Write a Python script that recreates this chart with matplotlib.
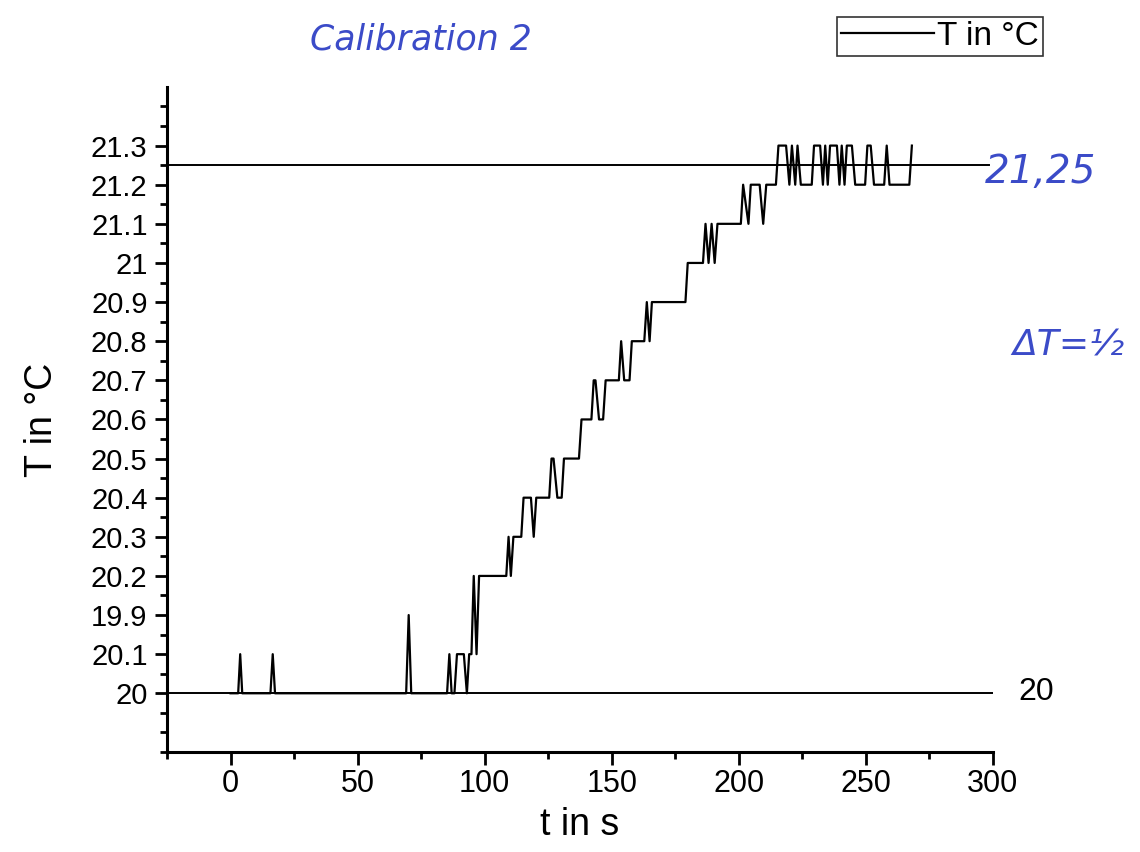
import numpy as np
import matplotlib.pyplot as plt
from matplotlib.ticker import FixedLocator, MultipleLocator

plt.rcParams['font.family'] = ['Liberation Sans', 'DejaVu Sans']

# y categories in the order the plotting program placed them (text column)
T_LEVELS = ["20", "20.1", "19.9", "20.2", "20.3", "20.4", "20.5", "20.6",
            "20.7", "20.8", "20.9", "21", "21.1", "21.2", "21.3"]

# measured curve, vertices where the trace changes direction
t_s = [0, 3, 3.8, 4.6, 15.7, 16.6, 17.5, 69.1, 70.1, 71.1,
       85.2, 86.1, 87.0, 88.1, 89.1, 91.8, 93.0, 93.9, 94.8, 95.7,
       96.8, 97.8, 108.5, 109.4, 110.3, 111.3, 114.4, 115.3, 118.2, 119.3,
       120.3, 125.4, 126.3, 127.1, 128.6, 130.3, 131.2, 137.1, 138.1, 142.0,
       142.9, 143.6, 145.0, 146.6, 147.6, 152.8, 153.7, 154.9, 157.0, 157.9,
       162.8, 163.8, 164.9, 165.8, 179.0, 179.9, 185.9, 186.9, 188.1, 189.3,
       190.5, 191.6, 200.8, 201.7, 203.8, 204.7, 208.2, 209.6, 210.8, 214.6,
       215.6, 218.6, 219.9, 220.9, 222.2, 223.1, 224.4, 228.7, 229.6, 232.0,
       233.1, 234.0, 235.0, 235.9, 238.6, 239.6, 240.5, 241.6, 242.5, 244.5,
       245.8, 249.7, 250.6, 251.9, 253.2, 257.2, 258.2, 259.3, 267.1, 268.1]
T_c = ["20", "20", "20.1", "20", "20", "20.1", "20", "20", "19.9", "20",
       "20", "20.1", "20", "20", "20.1", "20.1", "20", "20.1", "20.1", "20.2",
       "20.1", "20.2", "20.2", "20.3", "20.2", "20.3", "20.3", "20.4", "20.4", "20.3",
       "20.4", "20.4", "20.5", "20.5", "20.4", "20.4", "20.5", "20.5", "20.6", "20.6",
       "20.7", "20.7", "20.6", "20.6", "20.7", "20.7", "20.8", "20.7", "20.7", "20.8",
       "20.8", "20.9", "20.8", "20.9", "20.9", "21", "21", "21.1", "21", "21.1",
       "21", "21.1", "21.1", "21.2", "21.1", "21.2", "21.2", "21.1", "21.2", "21.2",
       "21.3", "21.3", "21.2", "21.3", "21.2", "21.3", "21.2", "21.2", "21.3", "21.3",
       "21.2", "21.3", "21.2", "21.3", "21.3", "21.2", "21.3", "21.2", "21.3", "21.3",
       "21.2", "21.2", "21.3", "21.3", "21.2", "21.2", "21.3", "21.2", "21.2", "21.3"]

# hand-drawn reference lines (positions on the category axis)
REF_HI = 13.5   # 21,25 between 21.2 and 21.3
REF_LO = 0      # 20

pos = {lab: i for i, lab in enumerate(T_LEVELS)}
y_pos = [pos[v] for v in T_c]

fig = plt.figure(figsize=(11.4, 8.52), dpi=100)
ax = fig.add_axes([0.1465, 0.1174, 0.7245, 0.7806])

ax.plot(t_s, y_pos, color="black", lw=1.6, label="T in °C")
ax.axhline(REF_HI, color="black", lw=1.4, xmax=0.995)
ax.axhline(REF_LO, color="black", lw=1.4, xmax=1.0)

ax.set_xlim(-25, 300)
ax.set_ylim(-1.5, 15.5)

ax.spines["top"].set_visible(False)
ax.spines["right"].set_visible(False)
for s in ("left", "bottom"):
    ax.spines[s].set_linewidth(2.2)

ax.xaxis.set_major_locator(MultipleLocator(50))
ax.xaxis.set_minor_locator(FixedLocator(np.arange(-25, 300, 50)))
ax.yaxis.set_major_locator(FixedLocator(range(len(T_LEVELS))))
ax.yaxis.set_minor_locator(FixedLocator([-1.5, -1, -0.5] + [i + 0.5 for i in range(len(T_LEVELS))] + [15]))
ax.set_yticklabels(T_LEVELS)

ax.tick_params(which="major", direction="out", length=9, width=2, labelsize=21, pad=5)
ax.tick_params(which="minor", direction="out", length=5, width=2)
ax.tick_params(axis="x", which="major", pad=3, labelsize=22)

ax.set_xlabel("t in s", fontsize=27, labelpad=6)
ax.set_ylabel("T in °C", fontsize=27, labelpad=22)

leg = ax.legend(loc="upper right", bbox_to_anchor=(1043 / 1140, 1 - 17 / 852),
                bbox_transform=fig.transFigure, fontsize=24, frameon=True,
                fancybox=False, edgecolor="black", handlelength=2.8,
                handletextpad=0.1, borderpad=0.12, borderaxespad=0)
leg.get_frame().set_linewidth(1.2)

# pen notes on the printout
pen = "#3b4bc8"
fig.text(310 / 1140, 1 - 40 / 852, "Calibration 2", color=pen, fontsize=25,
         style="italic", va="center", family=["DejaVu Sans"], fontweight="light")
fig.text(985 / 1140, 1 - 172 / 852, "21,25", color=pen, fontsize=28,
         style="italic", va="center", family=["DejaVu Sans"])
fig.text(1012 / 1140, 1 - 345 / 852, "ΔT=½", color=pen, fontsize=26,
         style="italic", va="center", family=["DejaVu Sans"])
fig.text(1018 / 1140, 1 - 692 / 852, "20", color="black", fontsize=23, va="center")

fig.savefig("out.png", dpi=100)
